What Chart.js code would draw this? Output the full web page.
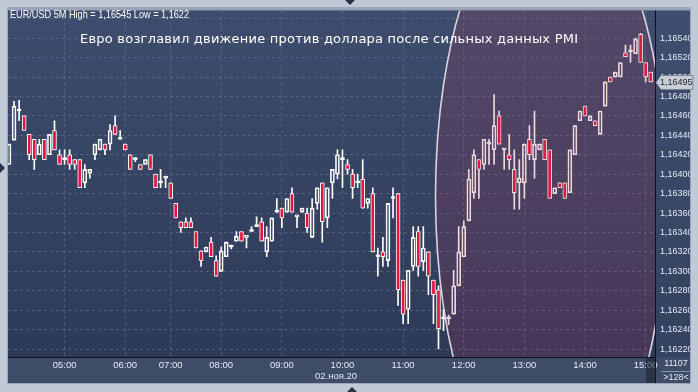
<!DOCTYPE html>
<html><head><meta charset="utf-8">
<script src="https://cdn.jsdelivr.net/npm/chart.js@4/dist/chart.umd.min.js"></script>
<style>html,body{margin:0;padding:0;background:#c0cad7;overflow:hidden}#wrap{width:698px;height:392px;position:relative}</style>
</head><body><div id="wrap"><canvas id="c" width="698" height="392"></canvas></div>
<script>
// ---- data (EUR/USD 5M, 02.ноя.20) ----
const openP  = [1.16410,1.16435,1.16465,1.16460,1.16441,1.16436,1.16420,1.16436,1.16420,1.16445,1.16420,1.16415,1.16420,1.16415,1.16415,1.16391,1.16401,1.16420,1.16425,1.16431,1.16431,1.16450,1.16436,1.16431,1.16420,1.16415,1.16410,1.16410,1.16420,1.16400,1.16391,1.16396,1.16391,1.16370,1.16351,1.16351,1.16351,1.16341,1.16321,1.16320,1.16330,1.16311,1.16300,1.16315,1.16325,1.16331,1.16341,1.16335,1.16341,1.16346,1.16351,1.16320,1.16331,1.16361,1.16365,1.16361,1.16380,1.16356,1.16361,1.16360,1.16335,1.16370,1.16391,1.16355,1.16391,1.16400,1.16415,1.16410,1.16400,1.16391,1.16395,1.16370,1.16380,1.16315,1.16320,1.16311,1.16375,1.16380,1.16291,1.16261,1.16305,1.16341,1.16310,1.16320,1.16291,1.16281,1.16251,1.16251,1.16256,1.16285,1.16315,1.16352,1.16381,1.16415,1.16410,1.16431,1.16425,1.16460,1.16425,1.16420,1.16405,1.16391,1.16391,1.16436,1.16415,1.16425,1.16436,1.16425,1.16380,1.16391,1.16391,1.16381,1.16420,1.16455,1.16470,1.16455,1.16455,1.16441,1.16470,1.16500,1.16500,1.16500,1.16525,1.16526,1.16524,1.16544,1.16515,1.16505];
const highP  = [1.16431,1.16475,1.16476,1.16460,1.16441,1.16436,1.16436,1.16436,1.16441,1.16455,1.16425,1.16425,1.16425,1.16415,1.16415,1.16410,1.16405,1.16431,1.16436,1.16431,1.16451,1.16460,1.16445,1.16431,1.16420,1.16417,1.16410,1.16415,1.16420,1.16400,1.16405,1.16396,1.16391,1.16370,1.16351,1.16355,1.16355,1.16341,1.16321,1.16325,1.16335,1.16316,1.16325,1.16330,1.16327,1.16341,1.16341,1.16335,1.16346,1.16356,1.16355,1.16346,1.16355,1.16375,1.16365,1.16375,1.16386,1.16356,1.16365,1.16365,1.16375,1.16386,1.16391,1.16386,1.16405,1.16425,1.16425,1.16415,1.16405,1.16400,1.16415,1.16375,1.16386,1.16324,1.16335,1.16370,1.16386,1.16380,1.16291,1.16301,1.16346,1.16346,1.16346,1.16320,1.16291,1.16285,1.16261,1.16255,1.16301,1.16346,1.16352,1.16405,1.16425,1.16415,1.16436,1.16436,1.16482,1.16465,1.16425,1.16441,1.16425,1.16415,1.16431,1.16450,1.16465,1.16431,1.16436,1.16425,1.16386,1.16391,1.16391,1.16425,1.16450,1.16465,1.16470,1.16460,1.16455,1.16465,1.16495,1.16500,1.16505,1.16515,1.16533,1.16533,1.16540,1.16545,1.16515,1.16505];
const lowP   = [1.16410,1.16435,1.16455,1.16445,1.16415,1.16405,1.16420,1.16415,1.16420,1.16425,1.16410,1.16410,1.16405,1.16405,1.16386,1.16386,1.16396,1.16415,1.16425,1.16420,1.16425,1.16441,1.16436,1.16425,1.16405,1.16413,1.16405,1.16410,1.16405,1.16386,1.16386,1.16386,1.16375,1.16355,1.16340,1.16345,1.16345,1.16324,1.16305,1.16320,1.16315,1.16295,1.16300,1.16315,1.16323,1.16331,1.16331,1.16324,1.16341,1.16346,1.16331,1.16315,1.16331,1.16361,1.16345,1.16361,1.16361,1.16345,1.16361,1.16340,1.16335,1.16364,1.16330,1.16345,1.16375,1.16395,1.16386,1.16400,1.16375,1.16386,1.16365,1.16365,1.16320,1.16295,1.16305,1.16305,1.16355,1.16265,1.16246,1.16246,1.16301,1.16295,1.16301,1.16276,1.16246,1.16220,1.16239,1.16245,1.16256,1.16285,1.16315,1.16352,1.16375,1.16375,1.16405,1.16410,1.16410,1.16431,1.16405,1.16405,1.16364,1.16364,1.16375,1.16415,1.16396,1.16425,1.16415,1.16375,1.16380,1.16386,1.16375,1.16381,1.16420,1.16455,1.16460,1.16455,1.16450,1.16441,1.16470,1.16495,1.16500,1.16500,1.16521,1.16515,1.16524,1.16515,1.16495,1.16495];
const closeP = [1.16431,1.16470,1.16465,1.16445,1.16420,1.16415,1.16431,1.16415,1.16441,1.16425,1.16410,1.16415,1.16410,1.16410,1.16386,1.16405,1.16405,1.16431,1.16436,1.16425,1.16445,1.16441,1.16436,1.16425,1.16405,1.16415,1.16405,1.16415,1.16405,1.16386,1.16391,1.16396,1.16375,1.16355,1.16345,1.16345,1.16345,1.16324,1.16311,1.16325,1.16315,1.16295,1.16321,1.16330,1.16325,1.16336,1.16331,1.16335,1.16341,1.16346,1.16331,1.16335,1.16355,1.16361,1.16355,1.16375,1.16361,1.16356,1.16365,1.16345,1.16365,1.16386,1.16351,1.16386,1.16405,1.16420,1.16415,1.16405,1.16386,1.16391,1.16365,1.16375,1.16320,1.16315,1.16315,1.16370,1.16375,1.16281,1.16256,1.16301,1.16335,1.16305,1.16324,1.16295,1.16276,1.16241,1.16251,1.16251,1.16285,1.16320,1.16346,1.16395,1.16420,1.16405,1.16436,1.16431,1.16450,1.16431,1.16425,1.16415,1.16381,1.16396,1.16431,1.16420,1.16431,1.16431,1.16415,1.16375,1.16386,1.16386,1.16375,1.16425,1.16450,1.16465,1.16460,1.16460,1.16450,1.16465,1.16495,1.16495,1.16505,1.16515,1.16521,1.16526,1.16539,1.16515,1.16500,1.16495];
const timeLabels = ['05:00','06:00','07:00','08:00','09:00','10:00','11:00','12:00','13:00','14:00','15:00'];
const timeIdx    = [11,23,32,42,54,66,78,90,102,114,126];
const dateLabel  = '02.ноя.20';
const priceTicks = [1.1622,1.1624,1.1626,1.1628,1.1630,1.1632,1.1634,1.1636,1.1638,1.1640,1.1642,1.1644,1.1646,1.1648,1.1650,1.1652,1.1654,1.1656];
const headerText = 'EUR/USD 5M High = 1,16545 Low = 1,1622';
const titleText  = 'Евро возглавил движение против доллара после сильных данных PMI';
const lastPrice  = 1.16495;
const barsCount  = '11107';
const barsShown  = '>128<';

// ---- font pick (narrow if present) ----
function hasFont(name){
  const c=document.createElement('canvas').getContext('2d'); const t='1,16540 abcdefghijklm';
  c.font='20px monospace'; const a=c.measureText(t).width;
  c.font='20px "'+name+'", monospace'; const b=c.measureText(t).width;
  return Math.abs(a-b)>0.5;
}
const NARROW = hasFont('Liberation Sans Narrow');
const FONT = NARROW ? "'Liberation Sans Narrow',sans-serif" : "'Liberation Sans',Arial,sans-serif";
const YSIZE = NARROW ? 10.5 : 9;
const XSIZE = NARROW ? 11 : 9.5;

// ---- build datasets ----
const body=[], upper=[], lower=[], bodyFill=[];
for (let i=0;i<openP.length;i++){
  const o=openP[i], c=closeP[i], top=Math.max(o,c), bot=Math.min(o,c);
  body.push({x:i, y:[bot, top]});
  upper.push({x:i, y:[top, highP[i]]});
  lower.push({x:i, y:[lowP[i], bot]});
  bodyFill.push(c<o ? '#e3163f' : 'rgba(0,0,0,0)');
}
const fmt = v => v.toFixed(5).replace('.', ',');

const panels = {
  id:'panels',
  beforeDraw(chart){
    const c=chart.ctx, a=chart.chartArea;
    c.save();
    c.fillStyle='#c0cad7'; c.fillRect(0,0,698,392);
    c.fillStyle='#9aa6b8'; c.fillRect(7,7,684,377);
    let g=c.createLinearGradient(0,a.top,0,a.bottom);
    g.addColorStop(0,'#3e4d6d'); g.addColorStop(1,'#2d3a57');
    c.fillStyle=g; c.fillRect(a.left,a.top,a.right-a.left,a.bottom-a.top);
    g=c.createLinearGradient(0,a.top,0,a.bottom);
    g.addColorStop(0,'#3f4e6e'); g.addColorStop(1,'#34425f');
    c.fillStyle=g; c.fillRect(a.right,a.top,690-a.right,a.bottom-a.top);
    c.fillStyle='#3f4c68'; c.fillRect(a.left,a.bottom,690-a.left,383-a.bottom);
    c.restore();
  }
};
const overlay = {
  id:'overlay',
  afterDatasetsDraw(chart){
    const c=chart.ctx, a=chart.chartArea;
    c.save();
    c.beginPath(); c.rect(a.left,a.top,a.right-a.left,a.bottom-a.top); c.clip();
    c.beginPath(); c.ellipse(551,196,115.5,303,0,0,Math.PI*2);
    c.fillStyle='rgba(175,55,85,0.19)'; c.fill();
    c.lineWidth=1.6; c.strokeStyle='rgba(236,226,236,0.9)'; c.stroke();
    c.restore();
  },
  afterDraw(chart){
    const c=chart.ctx, a=chart.chartArea, ys=chart.scales.y;
    c.save();
    c.strokeStyle='#0d121c'; c.lineWidth=1;
    c.beginPath(); c.moveTo(a.right+0.5,a.top); c.lineTo(a.right+0.5,383); c.stroke();
    c.beginPath(); c.moveTo(a.left,a.bottom+0.5); c.lineTo(a.right,a.bottom+0.5); c.stroke();
    c.fillStyle='rgba(28,36,54,0.6)'; c.fillRect(646,a.bottom+1,9,383-a.bottom-1);
    c.fillStyle='#ffffff'; c.font='11px '+FONT; c.textBaseline='middle'; c.textAlign='left';
    fitText(c, headerText, 10, 15, 179);
    c.font='13px "DejaVu Sans",sans-serif';
    spacedText(c, titleText, 80, 40, 498);
    c.font=XSIZE+'px '+FONT; c.fillStyle='#e4ebf5'; c.textAlign='center';
    c.fillText(dateLabel, 336, 376);
    c.font=YSIZE+'px '+FONT;
    c.fillText(barsCount, 676, 364);
    c.fillText(barsShown, 676, 378);
    c.strokeStyle='#8592a8'; c.beginPath(); c.moveTo(661,371.5); c.lineTo(691,371.5); c.stroke();
    const py=Math.round(ys.getPixelForValue(lastPrice))+0.5;
    c.beginPath(); c.moveTo(a.right+1,py); c.lineTo(a.right+6,py-7); c.lineTo(693,py-7); c.lineTo(693,py+7); c.lineTo(a.right+6,py+7); c.closePath();
    c.fillStyle='#c9cdd5'; c.fill(); c.strokeStyle='#7b8596'; c.stroke();
    c.fillStyle='#1b2332'; c.textAlign='left'; c.font=YSIZE+'px '+FONT;
    c.fillText(fmt(lastPrice), 660, py);
    c.fillStyle='#27324a';
    tri(c,[[345,0],[355,0],[350,5]]);
    tri(c,[[347,392],[357,392],[352,387]]);
    tri(c,[[0,163],[0,173],[5,168]]);
    c.restore();
  }
};
function tri(c,p){c.beginPath();c.moveTo(p[0][0],p[0][1]);c.lineTo(p[1][0],p[1][1]);c.lineTo(p[2][0],p[2][1]);c.closePath();c.fill();}
function fitText(c,t,x,y,w){const m=c.measureText(t).width;c.save();c.translate(x,y);c.scale(w/m,1);c.fillText(t,0,0);c.restore();}
function spacedText(c,t,x,y,w){
  const chars=[...t]; let tot=0; const ws=chars.map(ch=>{const v=c.measureText(ch).width; tot+=v; return v;});
  const sp=(w-tot)/(chars.length-1); let cx=x;
  chars.forEach((ch,i)=>{c.fillText(ch,cx,y); cx+=ws[i]+sp;});
}

const gridColor='rgba(110,126,158,0.55)';
new Chart(document.getElementById('c'), {
  type:'bar',
  data:{datasets:[
    {data:body, backgroundColor:bodyFill, borderColor:'#ffffff', borderWidth:1, borderSkipped:false, barThickness:4, minBarLength:2, grouped:false, order:1},
    {data:upper, backgroundColor:'#ffffff', borderWidth:0, barThickness:1, grouped:false, order:2},
    {data:lower, backgroundColor:'#ffffff', borderWidth:0, barThickness:1, grouped:false, order:3}
  ]},
  options:{
    responsive:false, animation:false, devicePixelRatio:1,
    layout:{padding:{left:8,top:8,right:8,bottom:9}},
    plugins:{legend:{display:false}, tooltip:{enabled:false}, title:{display:false}},
    scales:{
      x:{type:'linear', min:-0.2, max:127.85, offset:false,
        afterBuildTicks:s=>{s.ticks=timeIdx.map(v=>({value:v}));},
        afterFit:s=>{s.height=26;},
        ticks:{autoSkip:false, maxRotation:0, padding:3, color:'#e4ebf5', font:{family:FONT,size:XSIZE},
          callback:v=>{const k=timeIdx.indexOf(v); return k>=0?timeLabels[k]:'';}},
        grid:{offset:false, color:gridColor, drawTicks:false, lineWidth:1},
        border:{display:false, dash:[3,3]}
      },
      y:{position:'right', min:1.162118, max:1.165686,
        afterBuildTicks:s=>{s.ticks=priceTicks.map(v=>({value:v}));},
        afterFit:s=>{s.width=35;},
        ticks:{padding:5, color:'#e4ebf5', font:{family:FONT,size:YSIZE},
          callback:v=> v>1.16555 ? '' : fmt(v)},
        grid:{color:gridColor, drawTicks:false, lineWidth:1},
        border:{display:false, dash:[3,3]}
      }
    }
  },
  plugins:[panels, overlay]
});
</script></body></html>
